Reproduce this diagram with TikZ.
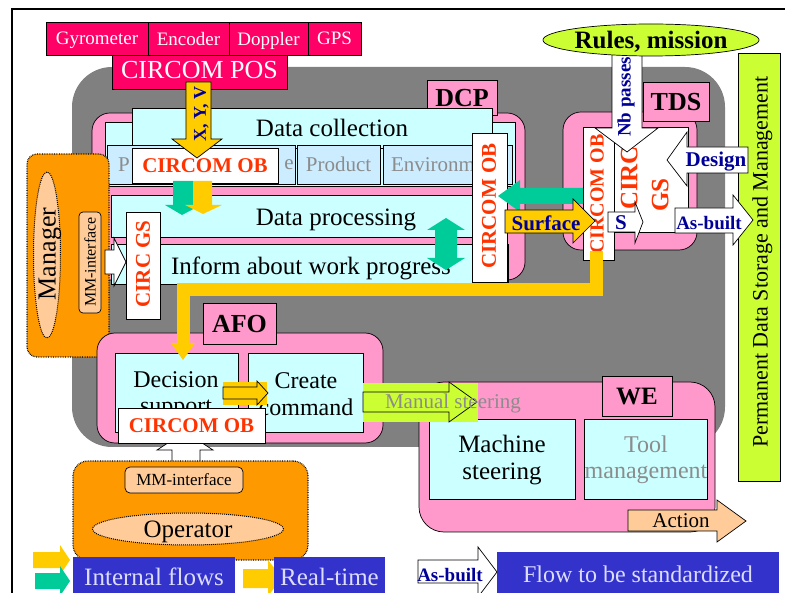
\documentclass[tikz,border=0pt]{standalone}
\usepackage{fontspec}
\setmainfont{Liberation Serif}
\usetikzlibrary{shapes.geometric}
\definecolor{mag}{HTML}{FF0066}
\definecolor{bggray}{HTML}{808080}
\definecolor{pinkc}{HTML}{FF99CC}
\definecolor{cyanc}{HTML}{CCFFFF}
\definecolor{lblue}{HTML}{CCECFF}
\definecolor{redt}{HTML}{FF3300}
\definecolor{yel}{HTML}{FFCC00}
\definecolor{grn}{HTML}{00CC99}
\definecolor{navy}{HTML}{000099}
\definecolor{lime}{HTML}{CCFF33}
\definecolor{orng}{HTML}{FF9900}
\definecolor{lorng}{HTML}{FFCC99}
\definecolor{legblue}{HTML}{3333CC}
\definecolor{legtxt}{HTML}{DCDCFF}
\definecolor{graytxt}{HTML}{8C8C8C}
\newcommand\fsize[1]{\fontsize{#1}{\fpeval{1.1*#1}}\selectfont}
\tikzset{
 bx/.style={draw=black, line width=0.7pt, inner sep=0pt, outer sep=0pt, anchor=north west, text depth=0pt},
 txm/.style={inner sep=0pt, outer sep=0pt, align=center},
 tx/.style={txm, text depth=0pt},
 vt/.style={tx, rotate=90},
 arr/.style={draw=black, line width=0.7pt},
 redb/.style={text=redt, font=\fsize{21}\bfseries},
 navyb/.style={text=navy, font=\fsize{#1}\bfseries},
}
\begin{document}
\begin{tikzpicture}[x=1pt,y=-1pt]
\useasboundingbox (0,0) rectangle (785,593);
% frame
\draw[line width=2pt] (12,593) -- (12,9) -- (785,9);
% gray background
\fill[bggray, rounded corners=40pt] (72,67) rectangle (725,447);
% sensors
\node[bx, fill=mag, minimum width=102pt, minimum height=33pt, text=white, font=\fsize{19}] (gyro) at (46,22) {Gyrometer};
\node[bx, fill=mag, minimum width=81pt, minimum height=33pt, text=white, font=\fsize{19}] (enc) at (148,22) {Encoder};
\node[bx, fill=mag, minimum width=79pt, minimum height=33pt, text=white, font=\fsize{19}] (dop) at (229,22) {Doppler};
\node[bx, fill=mag, minimum width=53pt, minimum height=33pt, text=white, font=\fsize{19}] (gps) at (308,22) {GPS};
\node[bx, fill=mag, minimum width=175pt, minimum height=34pt, text=white, font=\fsize{26}] (pos) at (112,55) {};
\node[tx, text=white, font=\fsize{26}] (post) at (199.5,70) {CIRCOM POS};
% DCP
\node[bx, fill=pinkc, rounded corners=18pt, minimum width=433pt, minimum height=167pt] (dcp) at (92,113) {};
\node[bx, fill=pinkc, minimum width=70pt, minimum height=35pt, font=\fsize{26}\bfseries] (dcplab) at (427,80) {DCP};
\node[bx, fill=cyanc, minimum width=410pt, minimum height=64pt] (dcout) at (105,122) {};
\node[bx, fill=cyanc, minimum width=360pt, minimum height=40pt] (dcup) at (132,108) {};
\node[tx, font=\fsize{25}] (dctxt) at (332,128) {Data collection};
\node[bx, fill=lblue, minimum width=188pt, minimum height=39pt] (sub1) at (107,145) {};
\node[tx, text=graytxt, font=\fsize{21}] (sub1a) at (124,165) {P};
\node[tx, text=graytxt, font=\fsize{21}] (sub1b) at (289,165) {e};
\node[bx, fill=lblue, minimum width=83pt, minimum height=39pt, text=graytxt, font=\fsize{21}] (sub2) at (297,145) {Product};
\node[bx, fill=lblue, minimum width=129pt, minimum height=39pt] (sub3) at (383,145) {};
\node[tx, anchor=west, text=graytxt, font=\fsize{21}] (sub3t) at (391,165) {Environment};
\node[bx, fill=cyanc, minimum width=394pt, minimum height=42pt] (dp) at (111,195) {};
\node[tx, font=\fsize{25}] (dptxt) at (336,217) {Data processing};
\node[bx, fill=cyanc, minimum width=397pt, minimum height=40pt] (inf) at (111,244) {};
\node[tx, font=\fsize{25}] (inftxt) at (311,266) {Inform about work progress};
% CIRCOM OB horizontal
\node[bx, fill=white, minimum width=146pt, minimum height=35pt, redb] (ob1) at (132,148) {CIRCOM OB};
% X,Y,V arrow
\draw[arr, fill=yel] (186,82) -- (211,82) -- (211,139) -- (222,139) -- (197,158) -- (172,139) -- (186,139) -- cycle;
\node[vt, navyb=18] (xyv) at (200,114) {X, Y, V};
% green / yellow down arrows
\fill[grn] (173,181) -- (193,181) -- (193,205) -- (201,205) -- (182,215) -- (165,205) -- (173,205) -- cycle;
\fill[yel] (193,181) -- (212,181) -- (212,205) -- (222,205) -- (203,214) -- (185,205) -- (193,205) -- cycle;
% green double arrow
\fill[grn] (435,230) -- (427,230) -- (446,218) -- (465,230) -- (457,230) -- (457,258) -- (465,258) -- (446,270) -- (427,258) -- (435,258) -- cycle;
% DCP CIRCOM OB vertical
\node[bx, fill=white, minimum width=35pt, minimum height=149pt] (ob2) at (472,133) {};
\node[vt, redb] (ob2t) at (489,206) {CIRCOM OB};
% TDS
\node[bx, fill=pinkc, rounded corners=18pt, minimum width=134pt, minimum height=138pt] (tds) at (563,112) {};
\node[bx, fill=pinkc, minimum width=66pt, minimum height=39pt, font=\fsize{26}\bfseries] (tdslab) at (643,82) {TDS};
\node[bx, fill=white, minimum width=31pt, minimum height=133pt] (ob3) at (583,127) {};
\node[vt, text=redt, font=\fsize{20}\bfseries] (ob3t) at (597,194) {CIRCOM OB};
\node[bx, fill=white, minimum width=74pt, minimum height=105pt] (gs) at (614,127) {};
\node[vt, text=redt, font=\fsize{25}\bfseries] (gs1) at (629,178) {CIRC};
\node[vt, text=redt, font=\fsize{25}\bfseries] (gs2) at (660,195) {GS};
% Nb passes arrow
\draw[arr, fill=white] (612,50) -- (642,50) -- (642,128) -- (658,128) -- (627,152) -- (595,128) -- (612,128) -- cycle;
\node[vt, navyb=19] (nb) at (624,97) {Nb passes};
% Rules ellipse
\node[ellipse, draw=black, line width=0.7pt, fill=lime, minimum width=189pt, minimum height=32pt, inner sep=0pt, text depth=0pt, font=\fsize{25}\bfseries] (rules) at (651,40) {Rules, mission};
% Permanent storage bar
\node[bx, fill=lime, minimum width=42pt, minimum height=428pt] (perm) at (738,53) {};
\node[vt, font=\fsize{22}] (permt) at (760,262) {Permanent Data Storage and Management};
% Design arrow
\draw[arr, fill=white] (748,147) -- (687,147) -- (687,132) -- (667,160) -- (687,186) -- (687,173) -- (748,173) -- cycle;
\node[tx, navyb=21] (design) at (716,159) {Design};
% S arrow
\draw[arr, fill=white] (608,212) -- (635,212) -- (635,202) -- (643,222) -- (635,243) -- (635,232) -- (608,232) -- cycle;
\node[tx, navyb=21] (s) at (621,223) {S};
% As-built arrow
\draw[arr, fill=white] (675,208) -- (733,208) -- (733,195) -- (753,220) -- (733,245) -- (733,233) -- (675,233) -- cycle;
\node[tx, navyb=19] (asb) at (709,223) {As-built};
% green left arrow
\fill[grn] (583,188) -- (520,188) -- (520,180) -- (498,196) -- (520,212) -- (520,204) -- (583,204) -- cycle;
% Surface arrow
\draw[arr, fill=yel] (505,210) -- (573,210) -- (573,199) -- (595,221) -- (573,243) -- (573,233) -- (505,233) -- cycle;
\node[tx, navyb=21] (surf) at (546,223) {Surface};
% Manager
\node[bx, fill=orng, rounded corners=10pt, densely dotted, line width=1.2pt, minimum width=82pt, minimum height=203pt] (mgr) at (27,154) {};
\node[ellipse, draw=black, densely dotted, line width=1pt, fill=lorng, minimum width=27pt, minimum height=166pt, inner sep=0pt] (mgrell) at (47,255) {};
\node[vt, font=\fsize{26}] (mgrt) at (47,254) {Manager};
\node[bx, fill=lorng, rounded corners=4pt, minimum width=22pt, minimum height=101pt] (mmi1) at (79,212) {};
\node[vt, font=\fsize{16}] (mmi1t) at (90,262) {MM-interface};
\draw[arr, fill=white] (105,250) -- (114,250) -- (114,238) -- (126,262) -- (114,286) -- (114,274) -- (105,274) -- cycle;
\node[bx, fill=white, minimum width=34pt, minimum height=107pt] (cgs) at (126,212) {};
\node[vt, redb] (cgst) at (143,264) {CIRC GS};
% AFO
\node[bx, fill=pinkc, rounded corners=18pt, minimum width=286pt, minimum height=110pt] (afo) at (97,333) {};
\node[bx, fill=pinkc, minimum width=73pt, minimum height=41pt, font=\fsize{26}\bfseries] (afolab) at (203,303) {AFO};
\node[bx, fill=cyanc, minimum width=123pt, minimum height=79pt] (dec) at (115,353) {};
\node[txm, font=\fsize{24}] (dect) at (176,395) {Decision\\support};
\node[bx, fill=cyanc, minimum width=115pt, minimum height=79pt] (cre) at (248,353) {};
\node[txm, font=\fsize{24}] (cret) at (306,394) {Create\\command};
\fill[yel] (223,382) rectangle (267,405);
\draw[arr, fill=yel] (223,387) -- (257,387) -- (257,381) -- (268,393) -- (257,405) -- (257,399) -- (223,399) -- cycle;
\draw[arr, fill=white] (172,462) -- (172,450) -- (157,450) -- (185,432) -- (213,450) -- (200,450) -- (200,462) -- cycle;
\node[bx, fill=white, minimum width=147pt, minimum height=35pt, redb] (ob4) at (118,408) {CIRCOM OB};
% yellow L connector
\draw[yel, line width=13pt] (596,251) -- (596,290) -- (183,290) -- (183,345);
\fill[yel] (171,343) -- (195,343) -- (183,360) -- cycle;
% WE
\node[bx, fill=pinkc, rounded corners=25pt, minimum width=296pt, minimum height=150pt] (we) at (419,382) {};
\node[bx, fill=pinkc, minimum width=70pt, minimum height=40pt, font=\fsize{25}\bfseries] (welab) at (602,376) {WE};
\node[bx, fill=cyanc, minimum width=146pt, minimum height=80pt] (mach) at (429,419) {};
\node[txm, font=\fsize{25}] (macht) at (502,460) {Machine\\steering};
\node[bx, fill=cyanc, minimum width=123pt, minimum height=80pt] (tool) at (584,419) {};
\node[txm, text=graytxt, font=\fsize{24}] (toolt) at (646,460) {Tool\\management};
\draw[arr, fill=lorng] (628,510) -- (717,510) -- (717,500) -- (746,521) -- (717,542) -- (717,531) -- (628,531) -- cycle;
\node[tx, font=\fsize{21}] (act) at (681,521) {Action};
% Manual steering
\fill[lime] (363,383) rectangle (478,422);
\draw[arr, fill=lime] (363,392) -- (449,392) -- (449,382) -- (477,402) -- (449,422) -- (449,412) -- (363,412) -- cycle;
\node[tx, text=graytxt, font=\fsize{21}] (man) at (453,401) {Manual steering};
% Operator
\node[bx, fill=orng, rounded corners=15pt, densely dotted, line width=1.2pt, minimum width=235pt, minimum height=99pt] (op) at (73,461) {};
\node[bx, fill=lorng, rounded corners=5pt, minimum width=118pt, minimum height=26pt, font=\fsize{17}] (mmi2) at (125,467) {MM-interface};
\node[ellipse, draw=black, densely dotted, line width=1pt, fill=lorng, minimum width=191pt, minimum height=32pt, inner sep=0pt, text depth=0pt, font=\fsize{25}] (opell) at (188,529) {Operator};
% legend
\fill[yel] (33,552) -- (60,552) -- (60,545) -- (70,560) -- (60,575) -- (60,568) -- (33,568) -- cycle;
\fill[grn] (35,573) -- (60,573) -- (60,566) -- (70,581) -- (60,596) -- (60,589) -- (35,589) -- cycle;
\node[bx, draw=none, fill=legblue, minimum width=162pt, minimum height=40pt, text=legtxt, font=\fsize{25}] (leg1) at (73,557) {Internal flows};
\fill[yel] (243,569) -- (268,569) -- (268,560) -- (282,578) -- (268,596) -- (268,588) -- (243,588) -- cycle;
\node[bx, draw=none, fill=legblue, minimum width=111pt, minimum height=40pt, text=legtxt, font=\fsize{25}] (leg2) at (274,557) {Real-time};
\draw[arr, fill=white] (418,560) -- (478,560) -- (478,547) -- (497,572) -- (478,597) -- (478,583) -- (418,583) -- cycle;
\node[tx, navyb=19] (leg3) at (450,575) {As-built};
\node[bx, draw=none, fill=legblue, minimum width=282pt, minimum height=44pt, text=legtxt, font=\fsize{24}] (leg4) at (497,552) {Flow to be standardized};
\end{tikzpicture}
\end{document}
